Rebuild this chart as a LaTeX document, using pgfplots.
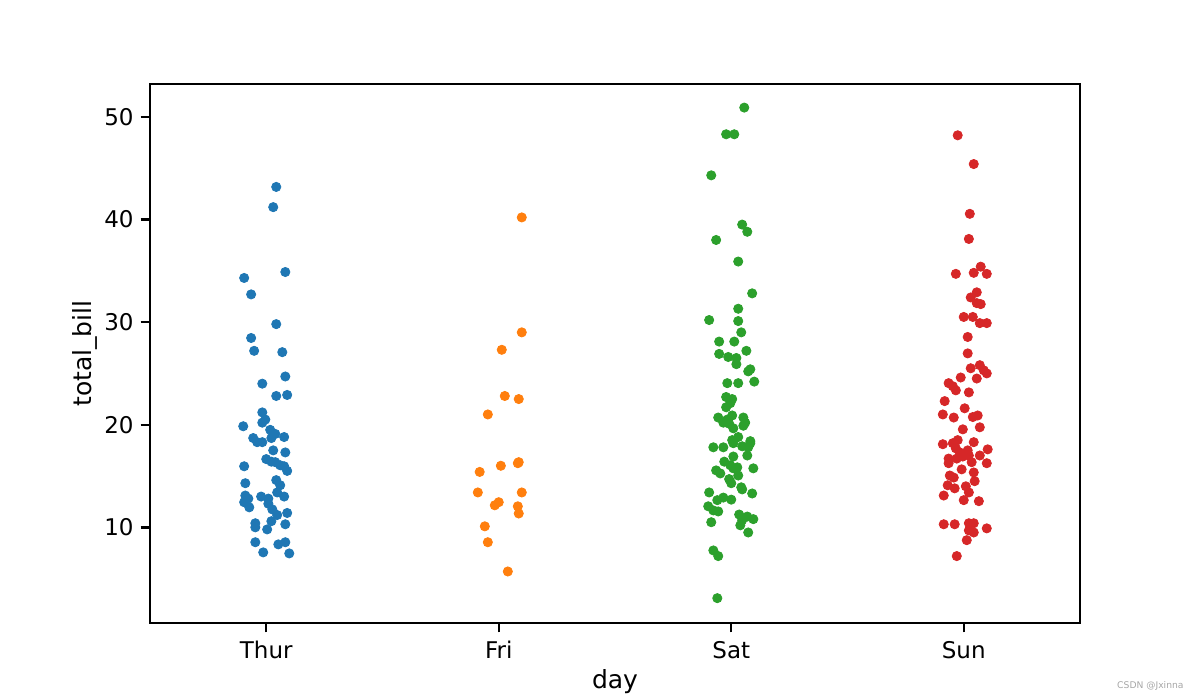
\documentclass[border=0pt]{standalone}
\usepackage{fontspec}
\setmainfont{DejaVu Sans}
\usepackage{pgfplots}
\pgfplotsset{compat=1.18}
\definecolor{tblue}{HTML}{1F77B4}
\definecolor{torange}{HTML}{FF7F0E}
\definecolor{tgreen}{HTML}{2CA02C}
\definecolor{tred}{HTML}{D62728}
\pgfplotsset{dot/.style={only marks, mark=*, mark size=2.3pt, color=#1, mark options={fill=#1, draw=#1}}}
\begin{document}
\begin{tikzpicture}
\useasboundingbox (0,0) rectangle (600pt,350pt);
\begin{axis}[
  at={(75pt,38.5pt)}, anchor=south west,
  scale only axis, width=465pt, height=269.5pt,
  xmin=-0.5, xmax=3.5, ymin=0.68, ymax=53.2,
  xtick={0,1,2,3}, xticklabels={Thur,Fri,Sat,Sun},
  ytick={10,20,30,40,50},
  tick align=outside, major tick length=4.7pt,
  tick style={line width=1.2pt, black},
  axis line style={line width=1.2pt},
  xtick pos=bottom, ytick pos=left,
  xlabel={day}, ylabel={total\_bill},
  ticklabel style={font=\fontsize{11.5}{13}\selectfont},
  xticklabel style={yshift=-1pt},
  label style={font=\fontsize{12.5}{14}\selectfont},
  xlabel style={yshift=1.5pt},
  ylabel style={yshift=-3.5pt},
  /pgf/number format/assume math mode=true,
]
% Thur
\addplot[dot=tblue] table {
x y
0.043 43.17
0.030 41.2
0.082 34.88
-0.095 34.3
-0.065 32.7
0.043 29.8
-0.065 28.45
-0.052 27.2
0.069 27.07
0.082 24.7
-0.017 24.0
0.043 22.8
0.090 22.9
-0.017 21.2
-0.004 20.5
-0.017 20.2
-0.099 19.85
0.017 19.5
0.039 19.1
-0.056 18.7
-0.039 18.3
-0.017 18.3
0.022 18.7
0.077 18.8
0.030 17.5
0.082 17.3
0.000 16.65
0.022 16.4
0.039 16.35
0.060 16.05
0.077 15.95
0.090 15.5
-0.095 15.95
0.043 14.6
0.060 14.1
0.047 13.4
0.077 13.0
-0.090 14.3
-0.090 13.1
-0.077 12.8
-0.095 12.45
-0.073 11.95
-0.022 13.0
0.009 12.8
0.009 12.3
0.026 11.75
0.047 11.2
0.090 11.4
0.022 10.6
0.082 10.3
-0.047 10.4
-0.047 10.0
0.004 9.8
-0.047 8.55
-0.013 7.56
0.052 8.34
0.082 8.55
0.099 7.46
};
% Fri
\addplot[dot=torange] table {
x y
1.099 40.2
1.099 29.0
1.013 27.3
1.026 22.8
1.086 22.5
0.953 21.0
1.086 16.35
1.082 16.25
1.009 16.0
0.918 15.4
0.910 13.4
1.099 13.4
1.000 12.45
0.983 12.15
1.082 12.05
1.086 11.35
0.940 10.1
0.953 8.55
1.039 5.7
};
% Sat
\addplot[dot=tgreen] table {
x y
2.056 50.9
1.978 48.3
2.013 48.3
1.914 44.3
2.047 39.5
2.069 38.8
1.935 38.0
2.030 35.9
2.090 32.8
2.030 31.3
1.905 30.2
2.030 30.1
2.043 29.0
1.948 28.1
2.013 28.1
2.065 27.2
1.948 26.9
1.987 26.6
2.022 26.5
2.022 25.9
2.082 25.4
2.073 25.2
2.099 24.2
1.983 24.05
2.030 24.05
1.978 22.7
2.004 22.5
1.996 22.1
1.978 21.7
1.944 20.7
1.966 20.2
1.983 20.5
2.004 20.9
1.991 20.1
2.052 20.7
2.060 20.2
2.052 19.9
2.009 19.65
2.030 18.8
2.082 18.4
2.004 18.5
1.923 17.8
1.966 17.8
2.009 18.2
2.047 17.9
2.073 17.8
2.082 18.2
2.069 17.0
2.009 16.9
1.970 16.4
1.935 15.55
1.953 15.25
1.996 16.05
2.009 15.75
2.026 15.85
2.030 15.05
2.095 15.75
1.991 14.7
2.000 14.3
2.043 13.9
2.047 13.7
2.090 13.3
1.905 13.4
1.940 12.65
1.966 12.9
2.000 12.7
1.901 12.05
1.923 11.65
1.944 11.55
2.034 11.25
2.069 11.05
2.095 10.8
2.047 10.7
2.039 10.2
2.073 9.5
1.914 10.5
1.923 7.75
1.944 7.2
1.940 3.1
};
% Sun
\addplot[dot=tred] table {
x y
2.974 48.2
3.043 45.4
3.026 40.55
3.022 38.1
3.073 35.4
2.966 34.7
3.043 34.8
3.099 34.7
3.056 32.9
3.030 32.4
3.056 31.85
3.073 31.75
3.000 30.5
3.039 30.5
3.069 29.9
3.099 29.9
3.017 28.55
3.017 26.95
3.030 25.5
3.069 25.8
3.086 25.3
3.099 25.0
2.987 24.6
3.056 24.5
2.935 24.05
2.953 23.75
2.966 23.35
3.022 23.15
2.918 22.3
3.004 21.6
2.910 21.0
2.957 20.7
3.039 20.75
3.060 20.9
3.069 19.75
2.996 19.55
2.910 18.1
2.953 18.2
2.974 18.5
3.043 18.3
3.103 17.6
2.966 17.7
2.983 17.3
2.996 16.9
3.017 17.5
3.022 17.0
3.069 17.0
2.935 16.7
2.970 16.7
2.935 16.25
3.034 16.35
3.099 16.25
2.991 15.65
3.043 15.35
2.940 15.05
2.957 14.85
2.931 14.1
2.961 13.8
3.009 14.0
3.047 14.5
3.022 13.4
2.914 13.1
3.000 12.65
3.065 12.55
2.914 10.3
2.961 10.3
3.022 10.4
3.043 10.4
3.022 9.7
3.043 9.5
3.099 9.9
3.013 8.75
2.970 7.2
};
\end{axis}
\node[anchor=east, text=gray!70, font=\fontsize{4.6}{5}\selectfont, inner sep=0pt] at (592pt,7pt) {CSDN @Jxinna};
\end{tikzpicture}
\end{document}
